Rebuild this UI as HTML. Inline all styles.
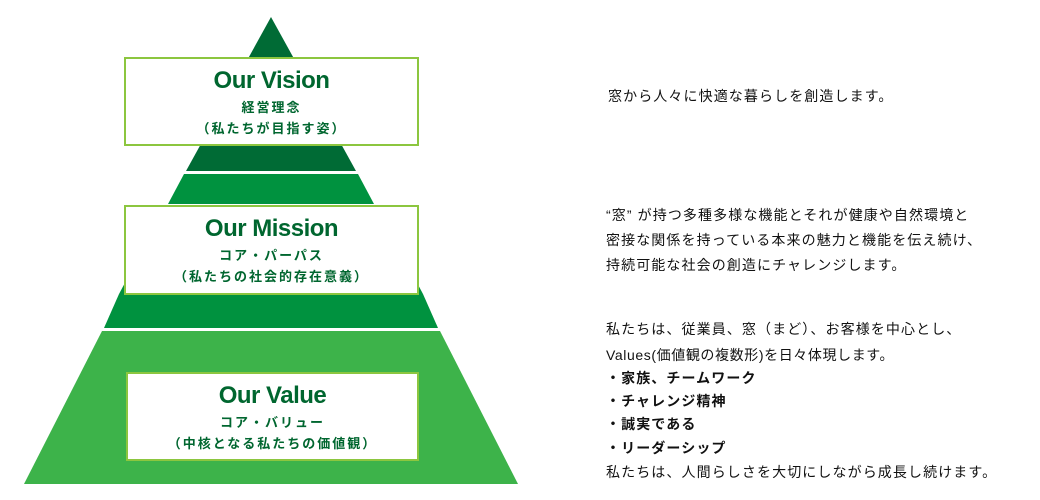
<!DOCTYPE html>
<html><head><meta charset="utf-8"><style>
html,body{margin:0;padding:0;background:#fff;width:1040px;height:500px;overflow:hidden;position:relative;font-family:"Liberation Sans","Noto Sans CJK JP",sans-serif}
.box{position:absolute;background:#fff;border:2px solid #8cc63f;box-sizing:border-box;text-align:center;color:#00662f;font-weight:bold}
.box .t{font-size:24px;line-height:28px;margin-top:8px;letter-spacing:-0.5px}
.box .s{font-size:13px;line-height:21px;letter-spacing:2px;position:relative;top:2px}
.r{position:absolute;left:606px;font-size:14px;letter-spacing:1.1px;color:#111;white-space:nowrap;line-height:16px}
.b{font-weight:bold}
</style></head><body>
<svg width="1040" height="500" style="position:absolute;left:0;top:0">
<polygon points="271,17 356,171 186,171" fill="#006b35"/>
<polygon points="184,174 358,174 374,204 168,204" fill="#00923f"/>
<polygon points="166,206 376,206 423,294 119,294" fill="#00923f"/>
<polygon points="119,294 423,294 438,328 104,328" fill="#00923f"/>
<polygon points="102,331 440,331 518,484 24,484" fill="#3db34a"/>
</svg>
<div class="box" style="left:124px;top:57px;width:295px;height:89px"><div class="t">Our Vision</div><div class="s">経営理念</div><div class="s">（私たちが目指す姿）</div></div>
<div class="box" style="left:124px;top:205px;width:295px;height:90px"><div class="t">Our Mission</div><div class="s">コア・パーパス</div><div class="s">（私たちの社会的存在意義）</div></div>
<div class="box" style="left:126px;top:372px;width:293px;height:89px"><div class="t">Our Value</div><div class="s">コア・バリュー</div><div class="s">（中核となる私たちの価値観）</div></div>
<div class="r" style="left:608px;top:88px">窓から人々に快適な暮らしを創造します。</div>
<div class="r" style="top:207px">“窓” が持つ多種多様な機能とそれが健康や自然環境と</div>
<div class="r" style="top:232px">密接な関係を持っている本来の魅力と機能を伝え続け、</div>
<div class="r" style="top:257px">持続可能な社会の創造にチャレンジします。</div>
<div class="r" style="top:321px">私たちは、従業員、窓（まど）、お客様を中心とし、</div>
<div class="r" style="top:347px;letter-spacing:0.6px">Values(価値観の複数形)を日々体現します。</div>
<div class="r b" style="top:370px">・家族、チームワーク</div>
<div class="r b" style="top:393px">・チャレンジ精神</div>
<div class="r b" style="top:416px">・誠実である</div>
<div class="r b" style="top:440px">・リーダーシップ</div>
<div class="r" style="top:464px">私たちは、人間らしさを大切にしながら成長し続けます。</div>
</body></html>
